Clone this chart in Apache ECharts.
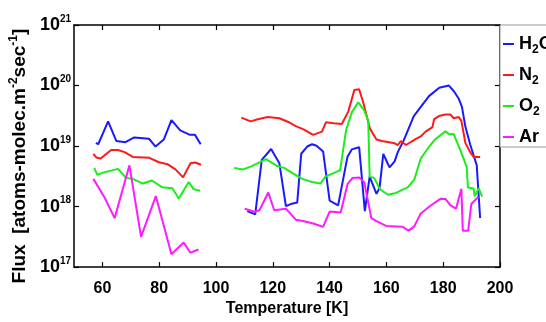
<!DOCTYPE html>
<html>
<head>
<meta charset="utf-8">
<script src="https://cdn.jsdelivr.net/npm/echarts@6/dist/echarts.min.js"></script>
<style>
  html, body { margin: 0; padding: 0; background: #fff; }
  #chart { width: 546px; height: 322px; }
</style>
</head>
<body>
<div id="chart"></div>
<script>
// temperatures [K] and fluxes; each gas has a low-T run (A) and a high-T run (B)
const h2oTempA = [57.7, 58.5, 62.0, 64.9, 68.1, 71.2, 76.4, 78.7, 81.6, 84.3, 87.4, 90.8, 92.6, 94.6]
const h2oFluxA = [1.13e19, 1.07e19, 2.56e19, 1.21e19, 1.16e19, 1.39e19, 1.32e19, 9.8e18, 1.28e19, 2.68e19, 1.82e19, 1.53e19, 1.53e19, 1.07e19]
const h2oTempB = [111.0, 113.8, 116.1, 119.4, 122.3, 124.6, 126.3, 128.6, 130.0, 132.1, 133.8, 135.4, 137.7, 140.0, 143.0, 146.3, 147.8, 150.4, 152.4, 154.1,
                  156.5, 157.6, 158.9, 161.1, 162.9, 164.0, 166.1, 169.6, 172.1, 175.0, 178.6, 182.0, 183.7, 185.5, 186.6, 187.8, 189.5, 191.2, 191.8, 193.0]
const h2oFluxB = [8.43e17, 7.45e17, 5.89e18, 8.93e18, 5.21e18, 1.02e18, 1.10e18, 1.17e18, 7.46e18, 9.82e18, 1.07e19, 1.01e19, 8.13e18, 1.25e18, 1.05e18, 6.68e18, 8.81e18, 9.57e18, 8.41e17, 3.13e18,
                  1.62e18, 2.06e18, 7.40e18, 4.43e18, 5.58e18, 7.93e18, 1.24e19, 3.09e19, 4.43e19, 6.68e19, 9.16e19, 9.98e19, 8.13e19, 6.04e19, 4.43e19, 2.10e19, 1.06e19, 5.93e18, 4.84e18, 6.46e17]

const n2TempA = [56.8, 57.9, 59.4, 61.4, 63.1, 65.5, 67.8, 70.7, 76.5, 79.9, 82.9, 85.7, 88.4, 91.0, 92.7, 94.7]
const n2FluxA = [7.45e18, 6.46e18, 6.24e18, 7.45e18, 8.61e18, 8.61e18, 7.93e18, 6.62e18, 6.38e18, 5.40e18, 5.02e18, 4.11e18, 3.04e18, 5.21e18, 5.35e18, 4.92e18]
const n2TempB = [108.9, 112.2, 114.7, 118.2, 122.3, 125.7, 128.1, 131.0, 134.2, 137.3, 138.7, 141.4, 144.3, 146.6, 148.7, 150.4, 151.8, 154.2, 156.5, 158.4,
                 162.9, 164.0, 165.1, 166.9, 170.4, 172.1, 173.8, 176.2, 176.8, 178.5, 180.8, 182.5, 183.7, 185.5, 186.4, 187.8, 189.5, 190.7, 193.0]
const n2FluxB = [2.95e19, 2.56e19, 2.78e19, 3.01e19, 2.88e19, 2.47e19, 2.14e19, 1.87e19, 1.53e19, 1.73e19, 2.47e19, 2.38e19, 2.32e19, 3.74e19, 8.43e19, 8.65e19, 5.35e19, 1.94e19, 1.28e19, 1.21e19,
                 1.11e19, 1.04e19, 1.21e19, 1.04e19, 1.31e19, 1.44e19, 1.73e19, 2.06e19, 2.78e19, 3.13e19, 3.32e19, 3.32e19, 2.88e19, 3.01e19, 2.61e19, 1.13e19, 7.93e18, 6.62e18, 6.62e18]

const o2TempA = [57.1, 58.2, 60.2, 65.5, 68.3, 70.7, 74.2, 77.4, 81.1, 84.6, 86.9, 90.4, 92.1, 94.4]
const o2FluxA = [4.36e18, 3.35e18, 3.64e18, 4.20e18, 2.98e18, 2.87e18, 2.40e18, 2.70e18, 2.08e18, 2.01e18, 1.36e18, 2.54e18, 1.94e18, 1.82e18]
const o2TempB = [106.4, 109.5, 112.4, 117.6, 121.7, 124.0, 127.5, 130.4, 133.8, 136.8, 138.5, 141.4, 143.7, 145.8, 147.8, 150.1, 152.2, 153.6, 154.1, 155.7,
                 157.7, 160.5, 163.4, 165.7, 167.5, 169.8, 172.1, 175.0, 177.3, 180.8, 182.1, 183.7, 186.0, 188.3, 188.7, 190.7, 191.1, 192.5, 193.7]
const o2FluxB = [4.36e18, 4.11e18, 4.62e18, 6.10e18, 4.62e18, 4.36e18, 3.44e18, 2.87e18, 2.54e18, 2.40e18, 3.12e18, 3.56e18, 3.99e18, 1.84e19, 3.60e19, 5.28e19, 3.87e19, 2.61e19, 3.12e18, 2.98e18,
                 1.94e18, 1.57e18, 1.68e18, 1.90e18, 2.07e18, 2.78e18, 6.22e18, 9.72e18, 1.31e19, 1.75e19, 1.57e19, 1.58e19, 8.65e18, 4.48e18, 2.06e18, 1.99e18, 1.48e18, 2.01e18, 1.46e18]

const arTempA = [56.8, 60.8, 64.3, 69.5, 73.6, 78.8, 84.3, 88.6, 91.0, 93.8]
const arFluxA = [2.87e18, 1.40e18, 6.44e17, 4.80e18, 3.15e17, 1.49e18, 1.63e17, 2.54e17, 1.73e17, 1.95e17]
const arTempB = [110.1, 113.6, 115.3, 118.4, 120.5, 124.6, 128.1, 131.0, 134.5, 137.7, 140.0, 143.9, 146.3, 148.0, 150.4, 152.2, 154.7, 156.5, 159.9, 165.7,
                 167.8, 169.8, 172.1, 175.6, 179.1, 180.8, 182.5, 184.5, 186.4, 186.9, 188.8, 189.9, 192.4]
const arFluxB = [9.23e17, 8.20e17, 8.69e17, 1.71e18, 8.69e17, 9.23e17, 6.07e17, 5.73e17, 5.20e17, 4.62e17, 8.28e17, 8.00e17, 2.34e18, 2.96e18, 3.01e18, 2.52e18, 6.44e17, 5.73e17, 4.79e17, 4.62e17,
                 4.00e17, 4.70e17, 7.71e17, 1.04e18, 1.35e18, 1.34e18, 1.06e18, 9.23e17, 1.96e18, 4.00e17, 4.00e17, 1.10e18, 1.45e18]

const xTicks = [60, 80, 100, 120, 140, 160, 180, 200]

const FONT = "'Liberation Sans', Arial, sans-serif"
const COLORS = {
  h2o: '#1a1aff',
  n2:  '#ff1a1a',
  o2:  '#1aee1a',
  ar:  '#ff1aff',
}

const gases = [
  { name: 'H2O', color: COLORS.h2o, runs: [[h2oTempA, h2oFluxA], [h2oTempB, h2oFluxB]] },
  { name: 'N2',  color: COLORS.n2,  runs: [[n2TempA, n2FluxA],   [n2TempB, n2FluxB]] },
  { name: 'O2',  color: COLORS.o2,  runs: [[o2TempA, o2FluxA],   [o2TempB, o2FluxB]] },
  { name: 'Ar',  color: COLORS.ar,  runs: [[arTempA, arFluxA],   [arTempB, arFluxB]] },
]

const legendText = {
  H2O: '{b|H}{s|2}{b|O}',
  N2:  '{b|N}{s|2}',
  O2:  '{b|O}{s|2}',
  Ar:  '{b|Ar}',
}

const series = []
gases.forEach(g => {
  g.runs.forEach(([t, f]) => {
    series.push({
      name: g.name,
      type: 'line',
      data: t.map((x, i) => [x, f[i]]),
      symbol: 'none',
      lineStyle: { color: g.color, width: 2 },
      itemStyle: { color: g.color },
    })
  })
})

const axisLine = { show: true, lineStyle: { color: '#000', width: 1.5 } }
const tickIn   = { show: true, inside: true, length: 5, lineStyle: { color: '#000', width: 1.2 } }

const option = {
  animation: false,
  backgroundColor: '#fff',
  grid: { left: 66, right: 46, top: 25, bottom: 40 },
  legend: {
    orient: 'vertical',
    left: 500,
    top: 25,
    padding: [10, 12, 1, 3],
    itemWidth: 11,
    itemHeight: 2,
    itemGap: 10,
    icon: 'rect',
    borderColor: '#999',
    borderWidth: 1,
    backgroundColor: '#fff',
    data: gases.map(g => g.name),
    formatter: name => legendText[name],
    textStyle: {
      rich: {
        b: { fontFamily: FONT, fontWeight: 'bold', fontSize: 18, color: '#000', lineHeight: 18 },
        s: { fontFamily: FONT, fontWeight: 'bold', fontSize: 12, color: '#000', padding: [12, 0, 0, 0], verticalAlign: 'top' },
      },
    },
  },
  xAxis: [
    {
      type: 'value',
      min: 50,
      max: 200,
      position: 'bottom',
      axisLine,
      axisTick: { ...tickIn, customValues: xTicks },
      splitLine: { show: false },
      axisLabel: {
        customValues: xTicks,
        color: '#000', fontFamily: FONT, fontWeight: 'bold', fontSize: 16, margin: 13,
      },
      name: 'Temperature [K]',
      nameLocation: 'middle',
      nameGap: 29,
      nameTextStyle: { color: '#000', fontFamily: FONT, fontWeight: 'bold', fontSize: 16 },
    },
    {
      type: 'value',
      min: 50,
      max: 200,
      position: 'top',
      axisLine,
      axisTick: { ...tickIn, customValues: xTicks },
      axisLabel: { show: false },
      splitLine: { show: false },
    },
  ],
  yAxis: [
    {
      type: 'log',
      logBase: 10,
      min: 1e17,
      max: 1e21,
      splitNumber: 4,
      axisLine,
      axisTick: tickIn,
      splitLine: { show: false },
      minorTick: { show: false },
      axisLabel: {
        margin: 3,
        formatter: v => '{b|10}{s|' + Math.round(Math.log10(v)) + '}',
        rich: {
          b: { fontFamily: FONT, fontWeight: 'bold', fontSize: 18, color: '#000', lineHeight: 22 },
          s: { fontFamily: FONT, fontWeight: 'bold', fontSize: 10, color: '#000', lineHeight: 9, verticalAlign: 'top' },
        },
      },
      name: '{b|Flux  [atoms-molec.m}{s|-2}{b|sec}{s|-1}{b|]}',
      nameLocation: 'middle',
      nameRotate: 90,
      nameGap: 33,
      nameTextStyle: {
        padding: [0, 20, 0, 0],
        rich: {
          b: { fontFamily: FONT, fontWeight: 'bold', fontSize: 19, color: '#000', lineHeight: 23 },
          s: { fontFamily: FONT, fontWeight: 'bold', fontSize: 12, color: '#000', lineHeight: 10, verticalAlign: 'top' },
        },
      },
    },
    {
      type: 'log',
      logBase: 10,
      min: 1e17,
      max: 1e21,
      splitNumber: 4,
      position: 'right',
      axisLine,
      axisTick: tickIn,
      axisLabel: { show: false },
      splitLine: { show: false },
    },
  ],
  series,
}

const chart = echarts.init(document.getElementById('chart'), null, { renderer: 'canvas' })
chart.setOption(option)
</script>
</body>
</html>
